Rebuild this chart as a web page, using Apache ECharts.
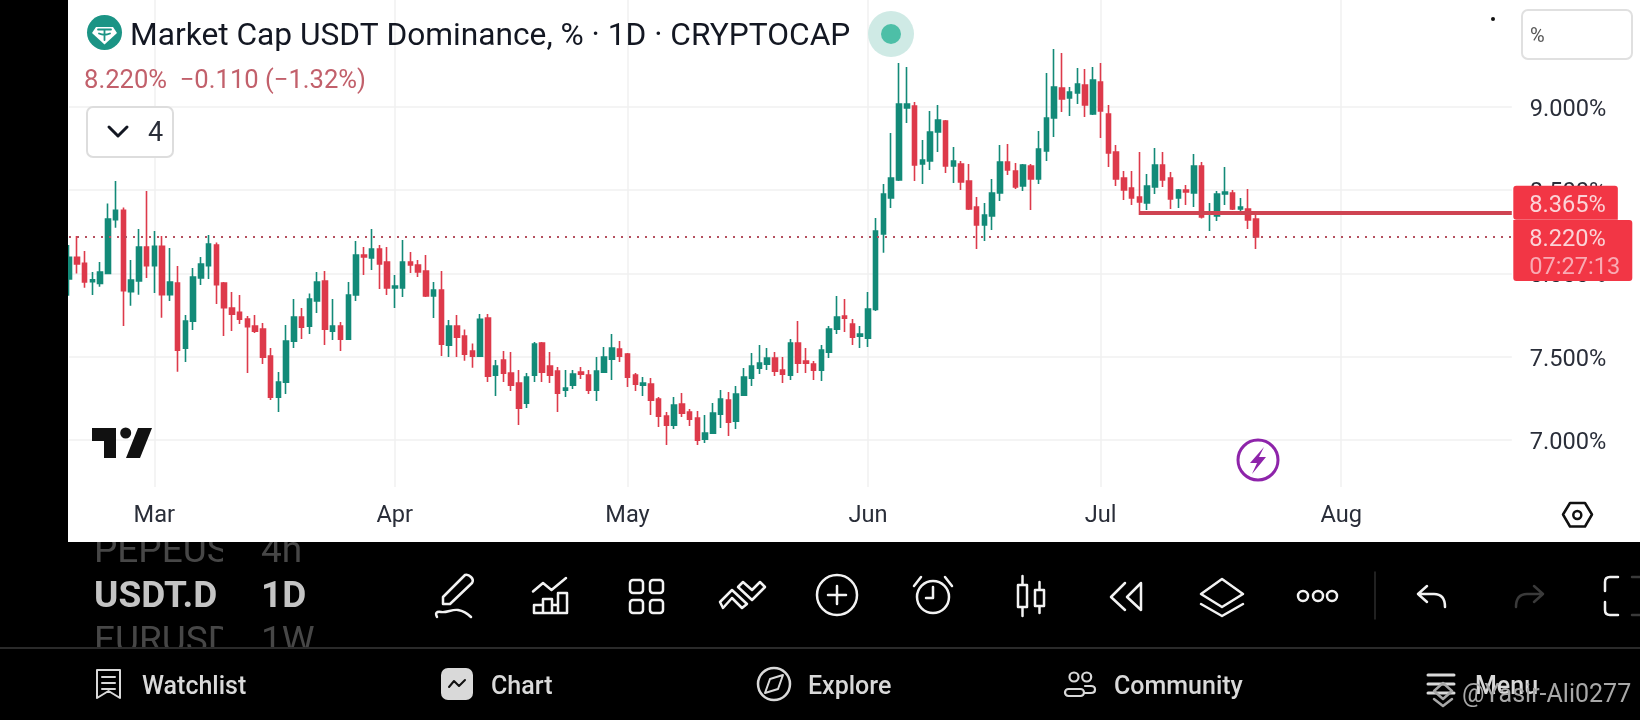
<!DOCTYPE html>
<html><head><meta charset="utf-8">
<style>html,body{margin:0;padding:0;background:#000}#c{width:1640px;height:720px}</style>
<script src="https://cdn.jsdelivr.net/npm/echarts@6/dist/echarts.min.js"></script>
</head><body><div id="c"></div>
<script>
const opens=[7.966,8.096,8.060,7.950,7.940,8.000,8.322,8.378,7.890,7.954,
8.158,8.046,8.162,7.872,7.942,7.552,7.714,7.972,8.046,8.170,
7.942,7.792,7.766,7.726,7.684,7.666,7.504,7.258,7.348,7.594,
7.738,7.684,7.834,7.954,7.654,7.684,7.606,7.870,8.110,8.092,
8.146,8.068,7.912,7.912,8.068,8.050,8.014,7.864,7.900,7.570,
7.684,7.624,7.534,7.504,7.732,7.390,7.480,7.402,7.342,7.222,
7.390,7.582,7.444,7.414,7.300,7.330,7.408,7.390,7.300,7.408,
7.486,7.546,7.516,7.390,7.330,7.336,7.246,7.144,7.090,7.216,
7.168,7.132,7.006,7.042,7.156,7.240,7.114,7.270,7.372,7.432,
7.456,7.492,7.420,7.390,7.582,7.474,7.456,7.420,7.528,7.666,
7.744,7.696,7.624,7.612,7.784,8.236,8.452,8.560,8.992,9.004,
8.656,8.674,8.848,8.914,8.644,8.656,8.554,8.398,8.290,8.344,
8.482,8.668,8.614,8.524,8.644,8.566,8.734,8.932,9.112,9.052,
9.082,9.130,8.956,9.148,8.956,8.728,8.572,8.512,8.458,8.422,
8.518,8.650,8.572,8.452,8.500,8.482,8.644,8.356,8.344,8.476,
8.482,8.386,8.386,8.326];
const closes=[8.096,8.056,7.948,7.962,8.008,8.326,8.378,7.896,7.960,8.158,
8.046,8.162,7.872,7.948,7.540,7.714,7.978,8.056,8.176,7.932,
7.794,7.756,7.726,7.680,7.654,7.498,7.258,7.348,7.594,7.738,
7.678,7.846,7.948,7.666,7.684,7.606,7.870,8.110,8.098,8.146,
8.056,7.912,7.924,8.068,8.050,8.008,7.864,7.900,7.576,7.684,
7.618,7.516,7.504,7.724,7.384,7.444,7.402,7.330,7.192,7.378,
7.576,7.408,7.390,7.282,7.312,7.396,7.396,7.300,7.414,7.498,
7.552,7.504,7.378,7.336,7.342,7.240,7.144,7.090,7.210,7.162,
7.126,7.000,7.042,7.162,7.246,7.108,7.276,7.378,7.444,7.462,
7.492,7.414,7.396,7.582,7.462,7.462,7.420,7.540,7.666,7.738,
7.732,7.618,7.636,7.786,8.254,8.476,8.572,9.016,9.016,8.650,
8.680,8.848,8.920,8.644,8.674,8.548,8.386,8.290,8.350,8.482,
8.668,8.620,8.518,8.650,8.566,8.746,8.932,9.118,9.046,9.088,
9.136,9.010,9.160,8.974,8.722,8.566,8.500,8.452,8.428,8.524,
8.650,8.560,8.446,8.500,8.488,8.644,8.338,8.368,8.476,8.488,
8.386,8.398,8.320,8.218];
const lows=[7.866,8.000,7.914,7.870,7.920,7.996,8.274,7.684,7.806,7.872,
7.972,7.882,7.734,7.834,7.410,7.468,7.660,7.930,7.966,7.816,
7.624,7.654,7.696,7.402,7.642,7.456,7.240,7.168,7.276,7.552,
7.606,7.636,7.762,7.570,7.600,7.534,7.600,7.834,7.990,8.020,
7.906,7.870,7.792,7.858,8.002,7.978,7.858,7.732,7.504,7.498,
7.498,7.476,7.434,7.498,7.348,7.264,7.348,7.294,7.090,7.192,
7.348,7.348,7.342,7.168,7.258,7.306,7.366,7.276,7.234,7.402,
7.360,7.468,7.318,7.294,7.264,7.150,7.078,6.970,7.066,7.138,
7.084,6.970,6.982,7.036,7.072,7.024,7.066,7.264,7.324,7.396,
7.420,7.384,7.342,7.360,7.402,7.402,7.360,7.354,7.492,7.636,
7.648,7.570,7.552,7.558,7.774,8.124,8.392,8.554,8.902,8.554,
8.536,8.620,8.728,8.602,8.542,8.500,8.380,8.146,8.194,8.260,
8.434,8.590,8.506,8.494,8.380,8.536,8.674,8.818,8.968,8.944,
9.016,8.938,8.950,8.812,8.638,8.524,8.440,8.410,8.350,8.380,
8.476,8.518,8.386,8.392,8.410,8.398,8.330,8.254,8.314,8.410,
8.380,8.356,8.266,8.146];
const highs=[8.170,8.224,8.134,8.008,8.068,8.420,8.554,8.396,8.080,8.266,
8.494,8.254,8.224,8.152,8.044,7.750,8.032,8.098,8.230,8.186,
7.948,7.888,7.870,7.744,7.750,7.702,7.552,7.408,7.690,7.846,
7.792,7.880,8.008,8.014,7.846,7.708,7.948,8.194,8.158,8.266,
8.170,8.158,7.990,8.200,8.128,8.080,8.110,7.948,8.014,7.720,
7.750,7.664,7.580,7.756,7.756,7.480,7.534,7.528,7.420,7.402,
7.588,7.588,7.528,7.438,7.420,7.420,7.438,7.420,7.498,7.558,
7.636,7.594,7.522,7.402,7.378,7.372,7.258,7.168,7.258,7.282,
7.186,7.174,7.150,7.222,7.300,7.288,7.324,7.432,7.522,7.570,
7.552,7.528,7.498,7.606,7.714,7.552,7.474,7.570,7.684,7.864,
7.846,7.726,7.684,7.888,8.332,8.536,8.842,9.262,9.238,9.028,
8.800,8.974,9.010,8.920,8.758,8.674,8.656,8.458,8.422,8.566,
8.770,8.776,8.662,8.656,8.656,8.854,9.202,9.346,9.322,9.118,
9.232,9.226,9.238,9.262,9.010,8.770,8.614,8.614,8.728,8.596,
8.752,8.728,8.608,8.506,8.530,8.716,8.668,8.422,8.494,8.638,
8.500,8.452,8.506,8.350];
const priceTicks=[7,7.5,8,8.5,9];
const monthNames={'03-01':'Mar','04-01':'Apr','05-01':'May','06-01':'Jun','07-01':'Jul','08-01':'Aug'};
const lastPrice=8.220, alertPrice=8.365;
const alertStart='07-06';
const countdown='07:27:13';

const categories=[];
for(let i=0;i<=186;i++){
  const d=new Date(Date.UTC(2025,1,18+i));
  categories.push(String(d.getUTCMonth()+1).padStart(2,'0')+'-'+String(d.getUTCDate()).padStart(2,'0'));
}
const lastCat=categories[categories.length-1];
const isMonth=(i,v)=>monthNames[v]!==undefined;

const FONT='Roboto';
const RED='#dd3a4b',GREEN='#138a78',INK='#2a2e39';
let shapeCount=0;
const shapeOf=d=>{const n='iconShape'+(shapeCount++);echarts.graphic.registerShape(n,echarts.graphic.extendPath(d));return n;};
const txt=(x,y,text,size,fill,extra)=>Object.assign({type:'text',x,y:y+6,z:10,silent:true,
  style:{text,fontSize:size,fontFamily:FONT,fontWeight:(extra&&extra.w)||400,fill,align:'left',verticalAlign:'middle',textAlign:'left',textVerticalAlign:'middle'}},
  extra&&extra.z!==undefined?{z:extra.z}:{});
const stroke=(d,color,w,z)=>({type:shapeOf(d),z:z===undefined?10:z,silent:true,style:{fill:'none',stroke:color,lineWidth:w,lineCap:'round',lineJoin:'round'}});
const solid=(d,color,z)=>({type:shapeOf(d),z:z===undefined?10:z,silent:true,style:{fill:color,stroke:null}});
const rect=(x,y,w,h,fill,z,r,st,lw)=>({type:'rect',z,silent:true,shape:{x,y,width:w,height:h,r:r||0},style:{fill,stroke:st||null,lineWidth:st?(lw||2):0}});
const circ=(cx,cy,r,fill,st,lw,z)=>({type:'circle',z:z===undefined?10:z,silent:true,shape:{cx,cy,r},style:{fill:fill||'none',stroke:st||null,lineWidth:lw||0}});
const W='#f2f2f2',NAV='#d9d9d9',DIM='#3a3a3a',OLD='#474747';

const graphics=[
  // panels
  rect(68,0,1572,542,'#ffffff',-1),
  rect(223,542,36,106,'#000000',-1),
  rect(320,542,1320,106,'#000000',-1),
  rect(0,648,1640,72,'#000000',-1),
  // header
  circ(104.5,32.5,17.5,'#1b9485'),
  solid('M96 27 H113 L117 33 L104.5 44.5 L92 33 Z','#ffffff'),
  stroke('M98 29.5 H111 M104.5 29.5 V40 M99 33.5 Q104.5 36 110 33.5','#1b9485',1.8),
  txt(130,31,'Market Cap USDT Dominance, % · 1D · CRYPTOCAP',31.7,'#131722'),
  circ(891,34,23,'#cfeae5'),
  circ(891,34,10,'#4dbfa7'),
  txt(84,76,'8.220%  −0.110 (−1.32%)',25.6,'#c2606b'),
  rect(87,107,86,50,'#ffffff',8,6,'#dddddd'),
  stroke('M109 127 L118 136 L127 127','#131722',3),
  txt(148,128,'4',27,'#2a2e39'),
  rect(1522,10,110,49,'#ffffff',8,6,'#e0e0e0'),
  txt(1530,31,'%',20,'#555555'),
  circ(1493,19,2,'#111111'),
  // TradingView mark
  solid('M92 428 H116 V458 H104 V441 H92 Z','#111111'),
  circ(125.7,433,5.5,'#111111'),
  solid('M138 428 H152 L140 458 H126 Z','#111111'),
  // event and settings
  circ(1258,460,20,'#ffffff','#8e24aa',3),
  solid('M1264 447 L1250 463 H1257 L1252 474 L1266 457 H1259 Z','#8e24aa'),
  stroke('M1563 514.5 L1570 503 H1585 L1592 514.5 L1585 526.5 H1570 Z','#111111',2.5),
  circ(1577.3,515,4,'#ffffff','#111111',2.5),
  // symbol switcher
  txt(94,547,'PEPEUS',37,OLD,{z:-2}),
  txt(261,547,'4h',37,OLD,{z:-2}),
  txt(94,592,'USDT.D',37,'#c4c4c4',{w:700,z:-2}),
  txt(261,592,'1D',37,'#c4c4c4',{w:700,z:-2}),
  txt(94,637,'EURUSD',37,OLD,{z:-2}),
  txt(261,637,'1W',37,OLD,{z:-2}),
  // toolbar icons
  stroke('M443 597 L465 575 Q468 574 471 577 Q474 580 472 583 L450 604 H443 Z M437 617 Q434 611 441 612 C447 613 452 609 458 610 C464 611 468 614 471 617',W,2.5),
  stroke('M533 591.5 L543 583 L551.5 590 L566 578 M534 613 V605 H543 V599 H552 V605 H558 V593 H567 V613 Z M543 613 V605 M552 613 V605 M558 613 V605',W,2.5),
  rect(630,580,13,13,'none',10,3,W,2.5),rect(650,580,13,13,'none',10,3,W,2.5),rect(630,600,13,13,'none',10,3,W,2.5),rect(650,600,13,13,'none',10,3,W,2.5),
  stroke('M720 602 L732 590 L747 604 L742 608 L732 598 L723 608 Z M738 587 L743 582 L752 590 L760 582 L765 587 L752 600 Z',W,2.5),
  circ(837,595,20,null,W,2.5),
  stroke('M837 586 V604 M828 595 H846',W,2.5),
  circ(933,597,16,null,W,2.5),
  stroke('M933 587 V598 H926 M914 586 L921 577 M952 586 L945 577',W,2.5),
  stroke('M1018 585 h9 v22 h-9 Z M1022.5 576 v9 M1022.5 607 v9 M1035 590 h9 v16 h-9 Z M1039.5 582 v8 M1039.5 606 v7',W,2.5),
  stroke('M1125 583 L1111 597 L1125 610 M1141 583 L1127 597 L1141 610 Z',W,2.5),
  stroke('M1222 579 L1243 594 L1222 607 L1201 594 Z M1201 604 L1222 616 L1243 604',W,2.5),
  circ(1303,596,5,null,W,2.5),circ(1318,596,5,null,W,2.5),circ(1332,596,5,null,W,2.5),
  stroke('M1375 572 V619','#2c2c2c',1.5),
  stroke('M1427 586 L1418 594 L1427 602 M1418 594 H1434 Q1445 594 1445 607',W,2.5),
  stroke('M1534 586 L1543 594 L1534 602 M1543 594 H1527 Q1516 594 1516 607',DIM,2.5),
  stroke('M1618 577 H1610 Q1605 577 1605 582 V591 M1605 602 V610 Q1605 615 1610 615 H1618',W,2.5),
  stroke('M1632 577 H1640 M1632 615 H1640',DIM,2.5),
  // navigation
  rect(0,647,1640,2,'#2a2a2a',-1),
  stroke('M97 670 H120 V698 L108.5 691 L97 698 Z M102 677 H115 M102 683 H115 M102 689 H115',NAV,2),
  txt(142,682,'Watchlist',25,NAV,{w:500}),
  rect(441,668,32,32,NAV,10,7),
  stroke('M449 687 L454 681 L459 686 L465 680','#111111',2),
  txt(491,682,'Chart',25,NAV,{w:500}),
  circ(774,684,16,null,NAV,2.5),
  stroke('M783 675 L778 689 L765 693 L770 679 Z',NAV,2),
  txt(808,682,'Explore',25,NAV,{w:500}),
  circ(1074,677,4.5,null,NAV,2.2),circ(1086.7,677,4.5,null,NAV,2.2),
  rect(1065,689,19,7,'none',10,3.5,NAV,2.2),
  stroke('M1085 686 H1091 Q1095 686 1095 689.5 Q1095 693 1091 693 H1085',NAV,2.2),
  txt(1114,682,'Community',25,NAV,{w:500}),
  stroke('M1428 675 H1454 M1428 684 H1454 M1428 693 H1454',NAV,3),
  txt(1475,682,'Menu',25,NAV,{w:500}),
  stroke('M1443 683 L1452 691 L1443 699 L1434 691 Z M1434 699 L1443 706 L1452 699','#a8a8a8',2.5,11),
  txt(1462,690,'@Yasir-Ali0277',25,'#a8a8a8',{z:11}),
  // left strip stays on top of the clipped first candle
  rect(0,0,68,542,'#000000',20)
];

const TAG={fontSize:23.6,fontFamily:FONT,color:'#fbd3d7',padding:[6,0,0,0]};
const chart=echarts.init(document.getElementById('c'),null,{width:1640,height:720,renderer:'canvas'});
chart.setOption({
  animation:false,
  backgroundColor:'#000000',
  graphic:graphics,
  grid:{left:69,top:0,width:186*7.757,height:487,containLabel:false},
  xAxis:{type:'category',boundaryGap:false,data:categories,
    axisLine:{show:false},axisTick:{show:false},
    splitLine:{show:true,interval:isMonth,lineStyle:{color:'#f0f0f0',width:1.5}},
    axisLabel:{interval:isMonth,formatter:v=>monthNames[v]||'',margin:17,color:INK,fontSize:23.6,fontFamily:FONT,hideOverlap:false}},
  yAxis:{type:'value',position:'right',min:6.7187,max:9.64,scale:true,
    axisLine:{show:false},
    axisTick:{show:false,customValues:priceTicks},
    splitLine:{show:true,lineStyle:{color:'#f0f0f0',width:1.5}},
    axisLabel:{customValues:priceTicks,margin:18,verticalAlign:'top',lineHeight:6,formatter:v=>v.toFixed(3)+'%',color:INK,fontSize:23.6,fontFamily:FONT}},
  series:[{type:'candlestick',
    barWidth:5,
    data:opens.map((o,i)=>[o,closes[i],lows[i],highs[i]]),
    itemStyle:{color:GREEN,color0:RED,borderColor:GREEN,borderColor0:RED,borderWidth:1.6},
    markLine:{silent:true,symbol:'none',animation:false,label:{show:false},
      data:[
        [{coord:[alertStart,alertPrice],lineStyle:{color:'#cf4452',width:4,type:'solid'}},{coord:[lastCat,alertPrice]}],
        [{coord:[categories[0],lastPrice],lineStyle:{color:'#b5505f',width:2,type:[2,6]}},{coord:[lastCat,lastPrice]}]
      ]},
    markPoint:{silent:true,symbol:'circle',symbolSize:1,animation:false,itemStyle:{color:'rgba(0,0,0,0)'},
      data:[
        {coord:[lastCat,alertPrice],label:{show:true,position:'right',distance:1,offset:[0,-9.7],formatter:'{a|'+alertPrice.toFixed(3)+'%}',
          rich:{a:Object.assign({},TAG,{lineHeight:30})},
          backgroundColor:'#f23645',padding:[2,12,2,16],borderRadius:[3,3,0,3]}},
        {coord:[lastCat,lastPrice],label:{show:true,position:'right',distance:1,offset:[0,13.8],formatter:'{a|'+lastPrice.toFixed(3)+'%}\n{b|'+countdown+'}',
          rich:{a:Object.assign({},TAG,{lineHeight:28}),b:Object.assign({},TAG,{lineHeight:28,color:'#f9aab3'})},
          backgroundColor:'#f23645',padding:[3.5,12,1.5,16],borderRadius:[0,3,3,3]}}
      ]}
  }]
});
</script></body></html>
